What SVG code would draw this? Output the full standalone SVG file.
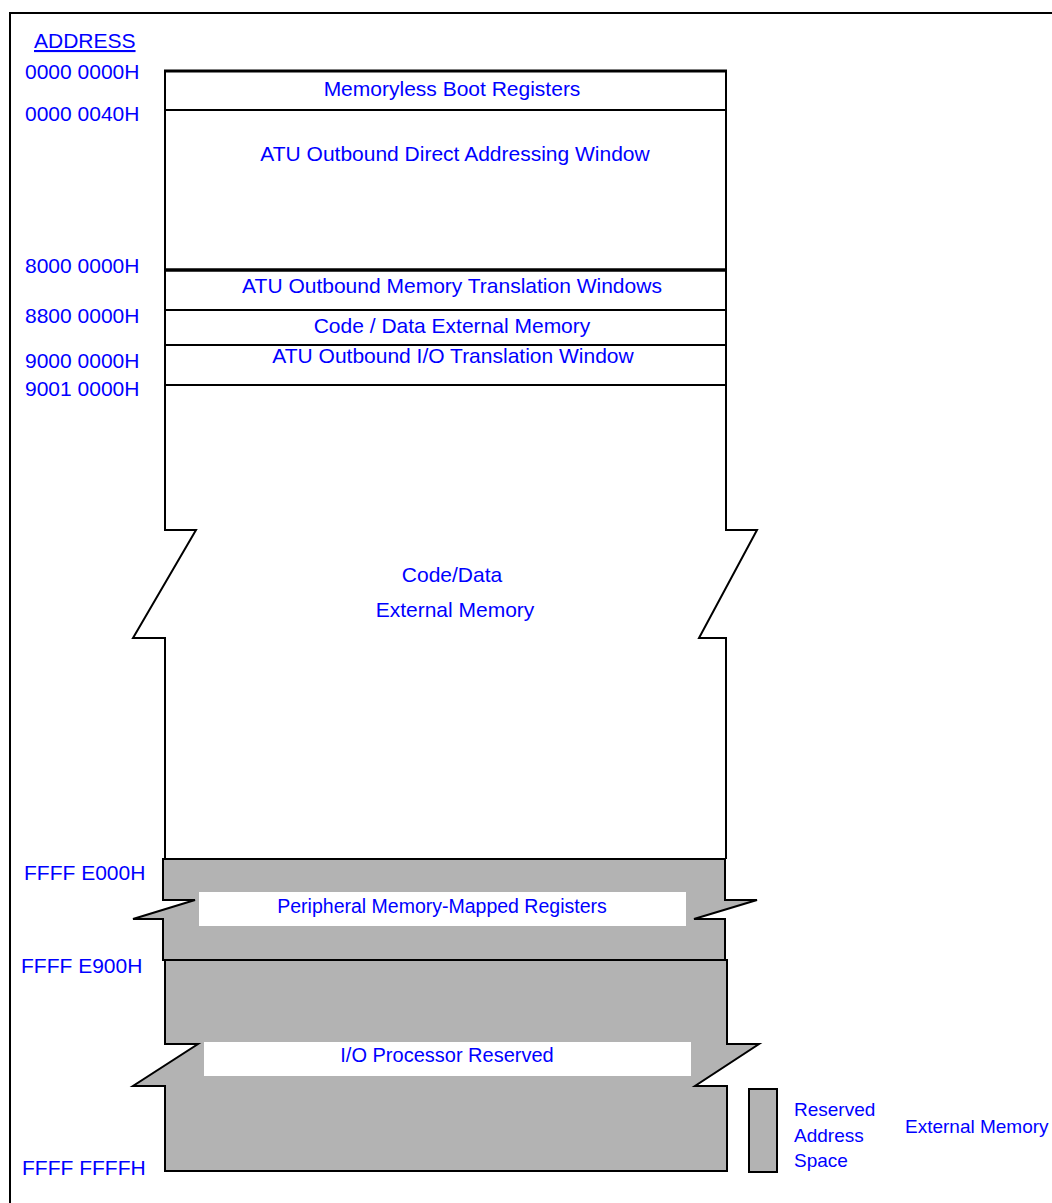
<svg xmlns="http://www.w3.org/2000/svg" width="1052" height="1203" viewBox="0 0 1052 1203">
<style>
.t{font-family:"Liberation Sans",Arial,sans-serif;font-size:21px;fill:#0000ff}
.m{text-anchor:middle}
.s{font-size:19px}
.ln{stroke:#000;stroke-width:2;fill:none}
.gr{fill:#b3b3b3;stroke:#000;stroke-width:2;stroke-linejoin:miter}
.wb{fill:#fff;stroke:none}
</style>
<rect width="1052" height="1203" fill="#fff"/>
<rect id="frame" x="10" y="13" width="1100" height="1300" fill="none" stroke="#000" stroke-width="2"/>
<g id="labels">
<text class="t" x="34" y="48" text-decoration="underline">ADDRESS</text>
<text class="t" x="25" y="79">0000 0000H</text>
<text class="t" x="25" y="121">0000 0040H</text>
<text class="t" x="25" y="273">8000 0000H</text>
<text class="t" x="25" y="323">8800 0000H</text>
<text class="t" x="25" y="368">9000 0000H</text>
<text class="t" x="25" y="396">9001 0000H</text>
<text class="t" x="24" y="880">FFFF E000H</text>
<text class="t" x="21" y="973">FFFF E900H</text>
<text class="t" x="22" y="1175">FFFF FFFFH</text>
</g>
<g id="external-memory">
<path class="wb" d="M165,71 H726 V530 H757 L699,638 H726 V859 H165 V638 H133 L196,530 H165 Z"/>
<path class="ln" d="M165,859 V638 H133 L196,530 H165 V71"/>
<path class="ln" d="M726,859 V638 H699 L757,530 H726 V71"/>
<line x1="164" y1="71" x2="727" y2="71" stroke="#000" stroke-width="3"/>
<text class="t m" x="452" y="582">Code/Data</text>
<text class="t m" x="455" y="617">External Memory</text>
</g>
<g id="memoryless-boot">
<line class="ln" x1="165" y1="110" x2="726" y2="110"/>
<text class="t m" x="452" y="96">Memoryless Boot Registers</text>
</g>
<g id="atu-direct">
<text class="t m" x="455" y="161">ATU Outbound Direct Addressing Window</text>
</g>
<g id="atu-mem-trans">
<line x1="165" y1="270" x2="726" y2="270" stroke="#000" stroke-width="3.5"/>
<line class="ln" x1="165" y1="310" x2="726" y2="310"/>
<text class="t m" x="452" y="293">ATU Outbound Memory Translation Windows</text>
</g>
<g id="code-data">
<line class="ln" x1="165" y1="345" x2="726" y2="345"/>
<text class="t m" x="452" y="333">Code / Data External Memory</text>
</g>
<g id="atu-io">
<line class="ln" x1="165" y1="385" x2="726" y2="385"/>
<text class="t m" x="453" y="363">ATU Outbound I/O Translation Window</text>
</g>
<g id="peripheral">
<path class="gr" d="M163,859 H725 V900 H757 L694,919 H725 V960 H163 V919 H133 L195,900 H163 Z"/>
<rect class="wb" x="199" y="892" width="487" height="34"/>
<text class="t m" x="442" y="913" style="font-size:19.5px">Peripheral Memory-Mapped Registers</text>
</g>
<g id="io-reserved">
<path class="gr" d="M165,960 H727 V1044 H759 L695,1086 H727 V1171 H165 V1086 H133 L198,1044 H165 Z"/>
<rect class="wb" x="204" y="1042" width="487" height="34"/>
<text class="t m" x="447" y="1062" style="font-size:20px">I/O Processor Reserved</text>
</g>
<g id="legend">
<rect class="gr" x="749" y="1089" width="28" height="83"/>
<text class="t s" x="794" y="1116">Reserved</text>
<text class="t s" x="794" y="1142">Address</text>
<text class="t s" x="794" y="1167">Space</text>
<text class="t s" x="905" y="1133">External Memory</text>
</g>
<g id="connectors"></g>
</svg>
